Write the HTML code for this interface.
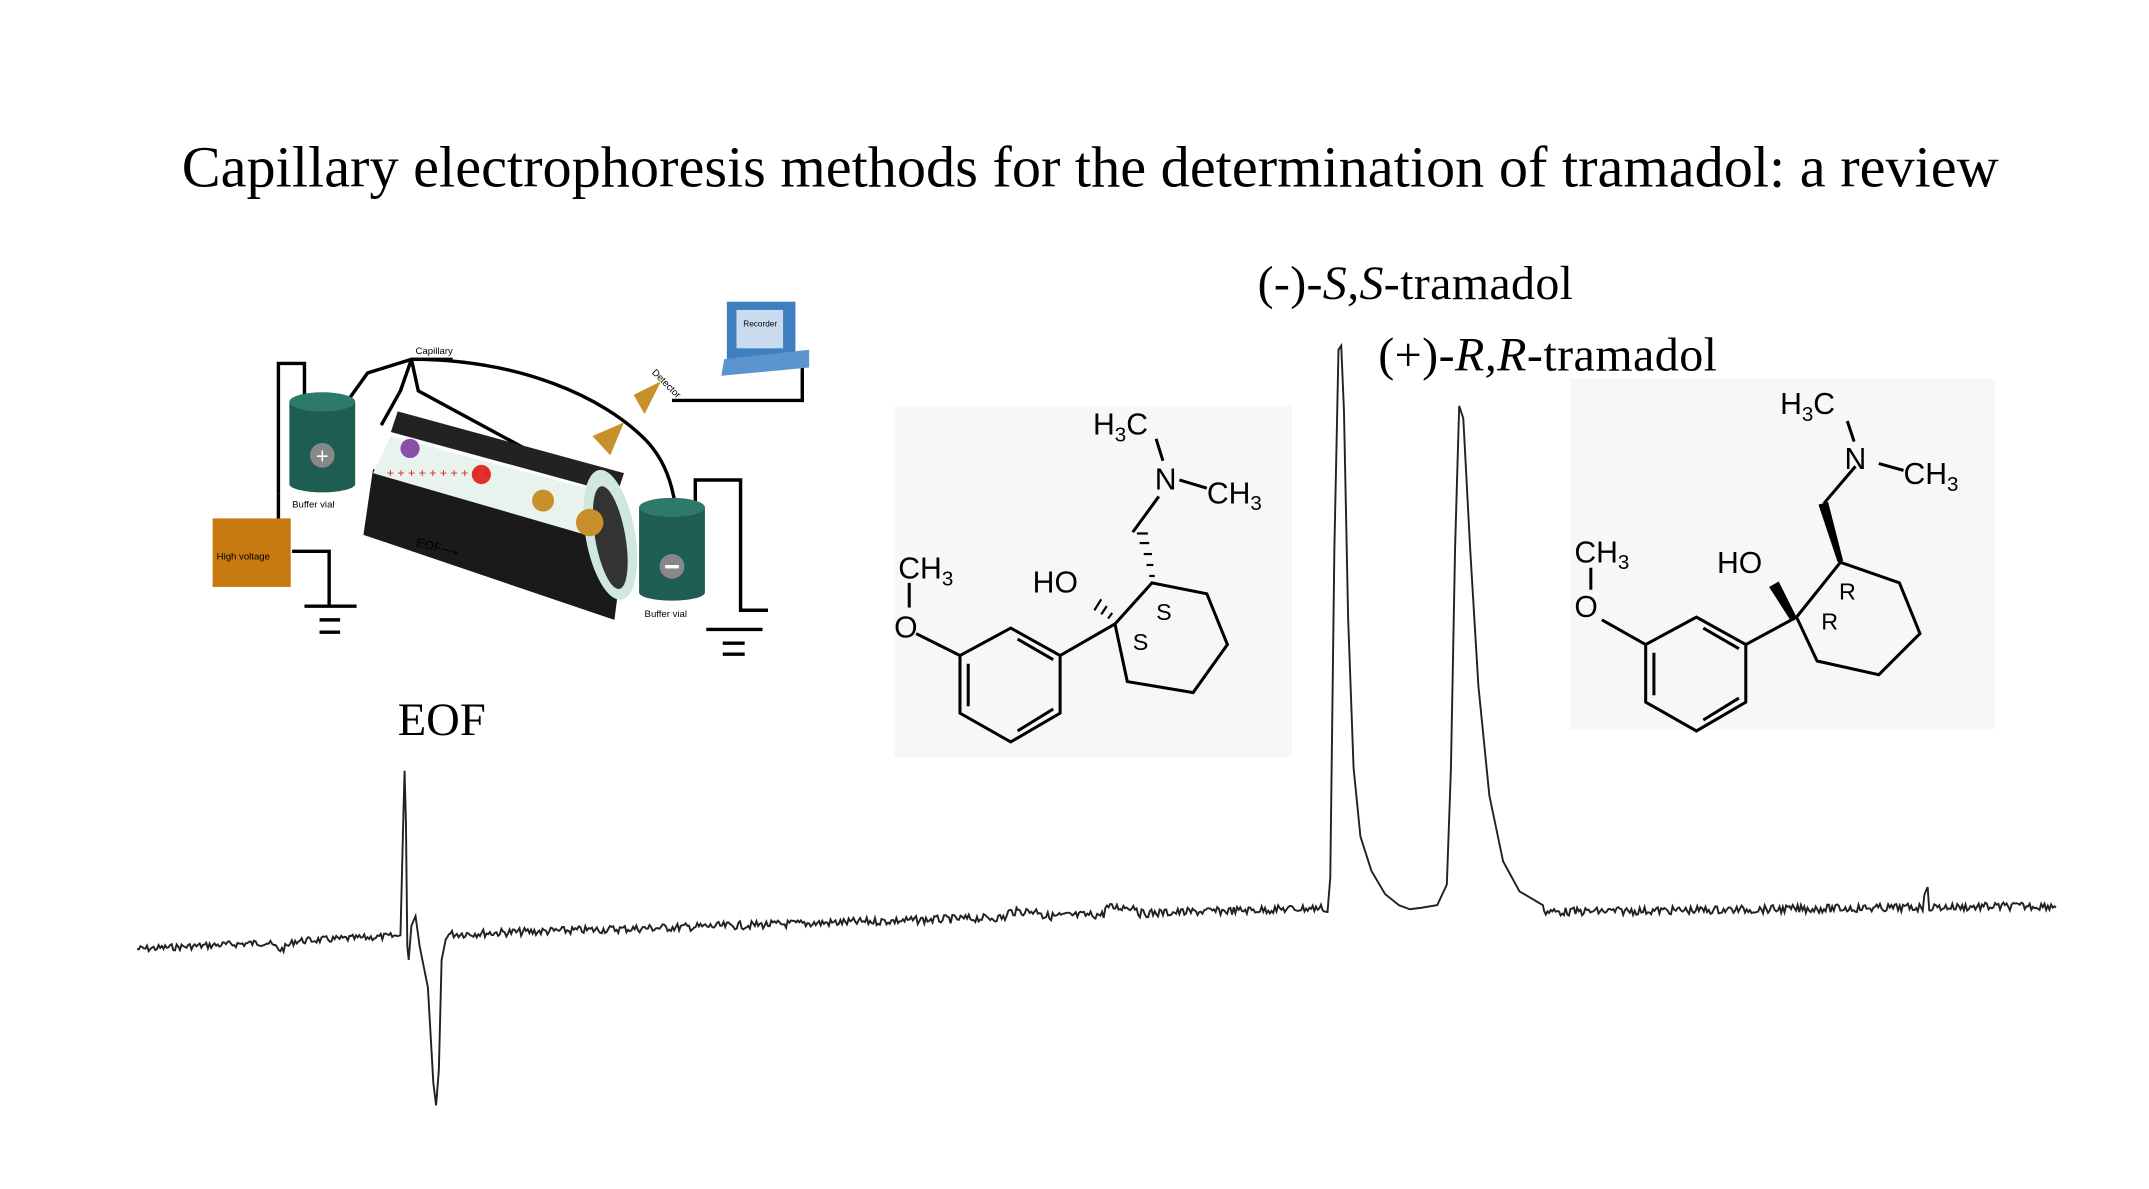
<!DOCTYPE html>
<html><head><meta charset="utf-8"><style>
html,body{margin:0;padding:0;background:#fff;width:2149px;height:1189px;overflow:hidden}
svg{display:block}
.t{font-family:"Liberation Serif",serif;fill:#000}
.s{font-family:"Liberation Sans",sans-serif;fill:#000}
</style></head><body>
<svg width="2149" height="1189" viewBox="0 0 1567 867" xmlns="http://www.w3.org/2000/svg">
<rect width="1567" height="867" fill="#fff"/>
<text class="t" x="795" y="136" font-size="42.5" text-anchor="middle">Capillary electrophoresis methods for the determination of tramadol: a review</text>
<text class="t" x="917" y="218" font-size="35" textLength="230">(-)-<tspan font-style="italic">S,S</tspan>-tramadol</text>
<text class="t" x="1005" y="270" font-size="35" textLength="247">(+)-<tspan font-style="italic">R,R</tspan>-tramadol</text>
<text class="t" x="290" y="536" font-size="34">EOF</text>

<!-- structure boxes -->
<rect x="652" y="296" width="290" height="256" fill="#f7f7f7"/>
<rect x="1145" y="276" width="310" height="256" fill="#f7f7f7"/>

<!-- left structure -->
<g stroke="#000" stroke-width="2.2" fill="none">
<polygon points="737,458 773,478 773,520 737,541 700,520 700,478"/>
<line x1="706" y1="484" x2="706" y2="515"/><line x1="742" y1="533" x2="768" y2="517"/><line x1="742" y1="466" x2="768" y2="481"/>
<line x1="700" y1="478" x2="668" y2="462"/><line x1="663" y1="425" x2="663" y2="443"/>
<line x1="773" y1="478" x2="813" y2="455"/>
<polyline points="813,455 840,425 880,433 895,470 870,505 822,497 813,455"/>
<line x1="826" y1="388" x2="845" y2="362"/><line x1="860" y1="350" x2="880" y2="356"/><line x1="848" y1="336" x2="843" y2="320"/>
</g>
<g stroke="#000" stroke-width="1.6">
<line x1="838" y1="420" x2="842" y2="420"/><line x1="836" y1="412" x2="841" y2="412"/><line x1="834" y1="404" x2="840" y2="404"/><line x1="831" y1="396" x2="838" y2="396"/><line x1="829" y1="389" x2="837" y2="389"/>
<line x1="808" y1="451" x2="811" y2="447"/><line x1="803" y1="448" x2="807" y2="442"/><line x1="798" y1="445" x2="803" y2="437"/>
</g>
<g class="s" font-size="22">
<text x="655" y="422">CH<tspan font-size="15" dy="5">3</tspan></text>
<text x="652" y="465">O</text>
<text x="753" y="432">HO</text>
<text x="797" y="317">H<tspan font-size="15" dy="5">3</tspan><tspan dy="-5">C</tspan></text>
<text x="842" y="357">N</text>
<text x="880" y="367">CH<tspan font-size="15" dy="5">3</tspan></text>
<text x="843" y="452" font-size="17">S</text>
<text x="826" y="474" font-size="17">S</text>
</g>

<!-- right structure -->
<g stroke="#000" stroke-width="2.2" fill="none">
<polygon points="1237,450 1273,470 1273,512 1237,533 1200,512 1200,470"/>
<line x1="1206" y1="476" x2="1206" y2="507"/><line x1="1242" y1="525" x2="1268" y2="509"/><line x1="1242" y1="458" x2="1268" y2="473"/>
<line x1="1200" y1="470" x2="1168" y2="452"/><line x1="1160" y1="414" x2="1160" y2="430"/>
<line x1="1273" y1="470" x2="1310" y2="450"/>
<polyline points="1310,450 1342,410 1385,425 1400,462 1370,492 1325,482 1310,450"/>
<line x1="1353" y1="340" x2="1330" y2="367"/><line x1="1370" y1="338" x2="1388" y2="343"/><line x1="1352" y1="322" x2="1347" y2="307"/>
</g>
<polygon points="1340,410 1344,409 1333,366 1326,368" fill="#000"/>
<polygon points="1310,450 1306,453 1290,428 1297,424" fill="#000"/>
<g class="s" font-size="22">
<text x="1148" y="410">CH<tspan font-size="15" dy="5">3</tspan></text>
<text x="1148" y="450">O</text>
<text x="1252" y="418">HO</text>
<text x="1298" y="302">H<tspan font-size="15" dy="5">3</tspan><tspan dy="-5">C</tspan></text>
<text x="1345" y="342">N</text>
<text x="1388" y="353">CH<tspan font-size="15" dy="5">3</tspan></text>
<text x="1341" y="437" font-size="17">R</text>
<text x="1328" y="459" font-size="17">R</text>
</g>

<!-- CE apparatus -->
<g stroke="#000" stroke-width="2.5" fill="none">
<polyline points="203,360 203,265 222,265 222,340"/>
<polyline points="245,340 248,300 268,272 300,262 330,262"/>
<path d="M300,262 C380,262 440,290 470,320 C490,340 495,370 493,395"/>
<polyline points="300,262 292,285 278,310"/><polyline points="300,262 305,285 440,358"/>
<polyline points="507,375 507,350 540,350 540,445 560,445"/>
<polyline points="213,402 240,402 240,442"/>
<line x1="222" y1="442" x2="260" y2="442"/><line x1="233" y1="452" x2="248" y2="452"/><line x1="233" y1="461" x2="248" y2="461"/>
<line x1="515" y1="459" x2="556" y2="459"/><line x1="527" y1="469" x2="543" y2="469"/><line x1="527" y1="477" x2="543" y2="477"/>
<polyline points="490,292 585,292 585,268"/>
</g>
<line x1="203" y1="360" x2="203" y2="380" stroke="#000" stroke-width="2.5"/>
<!-- vials -->
<rect x="211" y="293" width="48" height="60" fill="#1e5e52"/><ellipse cx="235" cy="293" rx="24" ry="7" fill="#2e7a6a"/><ellipse cx="235" cy="353" rx="24" ry="6" fill="#1e5e52"/>
<circle cx="235" cy="332" r="9" fill="#888"/><text x="235" y="338" font-size="16" fill="#fff" text-anchor="middle" font-family="Liberation Sans">+</text>
<text class="s" x="213" y="370" font-size="7">Buffer vial</text>
<rect x="466" y="370" width="48" height="62" fill="#1e5e52"/><ellipse cx="490" cy="370" rx="24" ry="7" fill="#2e7a6a"/><ellipse cx="490" cy="432" rx="24" ry="6" fill="#1e5e52"/>
<circle cx="490" cy="413" r="9" fill="#888"/><rect x="485" y="412" width="10" height="2.5" fill="#fff"/>
<text class="s" x="470" y="450" font-size="7">Buffer vial</text>
<!-- high voltage -->
<rect x="155" y="378" width="57" height="50" fill="#c77a10"/><text class="s" x="158" y="408" font-size="7">High voltage</text>
<!-- capillary tube -->
<polygon points="272,342 455,398 448,452 265,390" fill="#1a1a1a"/>
<polygon points="290,300 455,345 450,360 285,315" fill="#222"/>
<polygon points="285,318 450,362 455,398 272,345" fill="#e8f3ee"/>
<ellipse cx="445" cy="390" rx="18" ry="48" fill="#cfe7dc" transform="rotate(-10 445 390)"/>
<ellipse cx="445" cy="392" rx="11" ry="38" fill="#333" transform="rotate(-10 445 392)"/>
<circle cx="299" cy="327" r="7" fill="#8a4fa8"/><circle cx="351" cy="346" r="7" fill="#e0302a"/>
<circle cx="396" cy="365" r="8" fill="#c8902a"/><circle cx="430" cy="381" r="10" fill="#c8902a"/>
<text x="282" y="348" font-size="9" fill="#d22" font-family="Liberation Sans">+ + + + + + + + + +</text>
<text class="s" x="303" y="398" font-size="9" transform="rotate(15 303 398)">EOF⟶</text>
<text class="s" x="303" y="258" font-size="7">Capillary</text>
<text class="s" x="475" y="272" font-size="7" transform="rotate(45 475 272)">Detector</text>
<polygon points="462,288 482,278 470,302" fill="#c8902a"/><polygon points="432,318 455,308 445,332" fill="#c8902a"/>
<!-- recorder -->
<rect x="530" y="220" width="50" height="42" fill="#3f7fc0"/><rect x="537" y="226" width="34" height="28" fill="#c9dcef"/>
<text class="s" x="542" y="238" font-size="6">Recorder</text>
<polygon points="528,262 590,255 590,268 526,274" fill="#5b94cf"/>

<path id="chrom" d="" stroke="#222" stroke-width="1.4" fill="none"/>
</svg>
<script>
(function(){
var s=7;function r(){s=(s*9301+49297)%233280;return s/233280;}
var p=[];
function base(x){
 if(x<290){var y=692-(x-100)*0.05; if(x>195&&x<215)y+=(x-205<0?(x-195):(215-x))*0.6; return y;}
 return 682-(x-300)*0.03;
}
for(var x=100;x<290;x+=1.2)p.push([x,base(x)+(r()-0.5)*5]);
p.push([292,682],[294,600],[295,562],[296,600],[297,690],[298,700],[300,675],[303,668],[306,690],[312,720],[316,790],[318,806],[320,780],[322,700],[325,685]);
for(var x=326;x<966;x+=1.2){var y=base(x); if(x>735&&x<760)y-=4; if(x>805&&x<830)y-=5; p.push([x,y+(r()-0.5)*6]);}
p.push([968,665],[970,640],[973,400],[976,255],[978,252],[980,300],[983,450],[987,560],[992,610],[1000,635],[1010,652],[1020,660],[1028,663],[1036,662],[1048,660],[1055,645],[1058,560],[1061,400],[1064,296],[1067,305],[1072,400],[1078,500],[1086,580],[1096,628],[1108,650],[1125,660]);
for(var x=1126;x<1500;x+=1.2){var y=665-(x-1126)*0.012; if(x>1403&&x<1406)y-=12; p.push([x,y+(r()-0.5)*6]);}
var d='M'+p.map(function(a){return a[0].toFixed(1)+','+a[1].toFixed(1)}).join(' L');
document.getElementById('chrom').setAttribute('d',d);
})();
</script>
</body></html>
